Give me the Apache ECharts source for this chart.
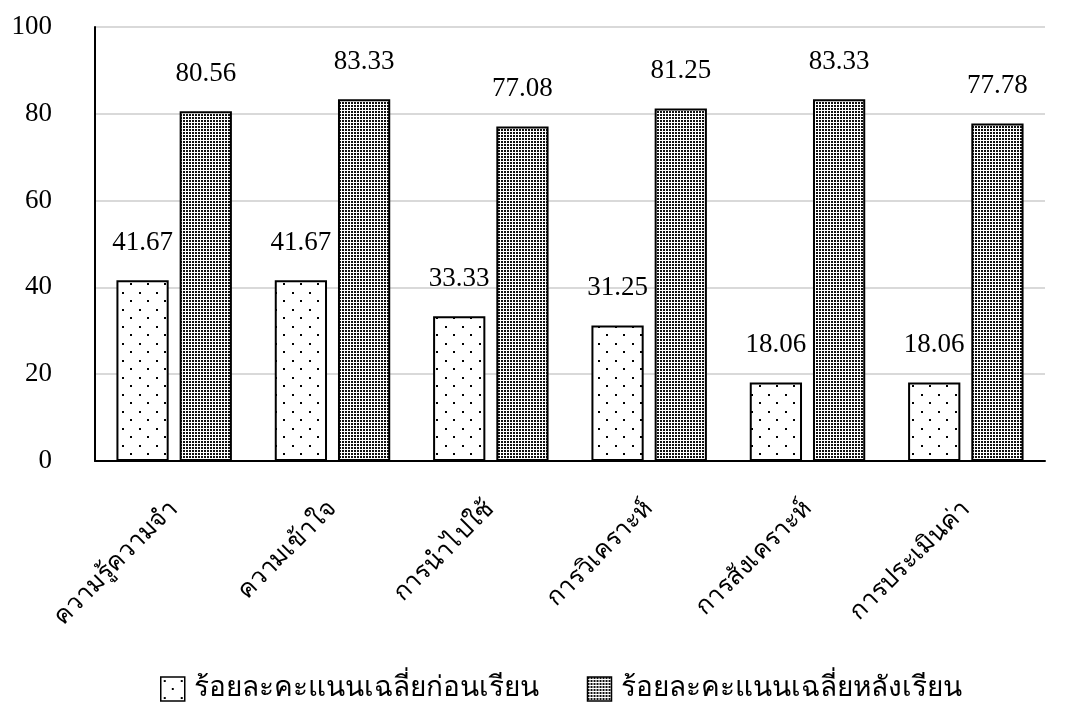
<!DOCTYPE html>
<html><head><meta charset="utf-8">
<script src="https://cdn.jsdelivr.net/npm/echarts@6/dist/echarts.min.js"></script>
<style>html,body{margin:0;padding:0;background:#fff}#c{width:1068px;height:713px}</style>
</head><body><div id="c"></div>
<script>
const categories = ['ความรู้ความจำ','ความเข้าใจ','การนำไปใช้','การวิเคราะห์','การสังเคราะห์','การประเมินค่า'];
const seriesNames = ['ร้อยละคะแนนเฉลี่ยก่อนเรียน','ร้อยละคะแนนเฉลี่ยหลังเรียน'];
const beforeValues = [41.67, 41.67, 33.33, 31.25, 18.06, 18.06];
const afterValues = [80.56, 83.33, 77.08, 81.25, 83.33, 77.78];
const yTicks = [0, 20, 40, 60, 80, 100];

function sparsePattern(){
  const c = document.createElement('canvas'); c.width = 17; c.height = 17;
  const g = c.getContext('2d'); g.fillStyle = '#fff'; g.fillRect(0,0,17,17);
  g.fillStyle = '#000';
  g.fillRect(3,3,2,2); g.fillRect(11,11,2,2);
  return c;
}
function densePattern(){
  const c = document.createElement('canvas'); c.width = 3; c.height = 3;
  const g = c.getContext('2d'); g.fillStyle = '#fff'; g.fillRect(0,0,3,3);
  g.fillStyle = '#111';
  g.fillRect(0,0,2,2);
  return c;
}
const font = '"Liberation Serif","Times New Roman",serif';
const chart = echarts.init(document.getElementById('c'));
const sp = sparsePattern(), dp = densePattern();
const valueLabel = {show:true,position:'top',distance:24,fontSize:27,color:'#000',fontFamily:font,
  formatter:p=>p.value.toFixed(2)};
chart.setOption({
  animation:false,
  textStyle:{fontFamily:font},
  grid:{left:95,right:23,top:27,bottom:252},
  legend:{bottom:5,left:155,itemWidth:24,itemHeight:24,itemGap:48,icon:'rect',
    textStyle:{fontSize:28,color:'#000',fontFamily:font,padding:[0,0,0,4]},
    itemStyle:{borderColor:'#000',borderWidth:1.5},
    data:seriesNames},
  xAxis:{type:'category',data:categories,
    axisLine:{lineStyle:{color:'#000',width:2}},axisTick:{show:false},
    axisLabel:{rotate:45,fontSize:25,color:'#000',margin:44,interval:0,fontFamily:font}},
  yAxis:{type:'value',min:0,max:100,interval:20,
    axisLine:{show:true,lineStyle:{color:'#000',width:2}},axisTick:{show:false},
    splitLine:{lineStyle:{color:'#d9d9d9',width:2}},
    axisLabel:{fontSize:27,color:'#000',margin:43,fontFamily:font}},
  series:[
    {name:seriesNames[0],type:'bar',data:beforeValues,barWidth:'33%',barGap:'21%',
     itemStyle:{color:{image:sp,repeat:'repeat'},borderColor:'#000',borderWidth:2},
     label:valueLabel},
    {name:seriesNames[1],type:'bar',data:afterValues,barWidth:'33%',
     itemStyle:{color:{image:dp,repeat:'repeat'},borderColor:'#000',borderWidth:2},
     label:valueLabel}
  ]
});
</script></body></html>
